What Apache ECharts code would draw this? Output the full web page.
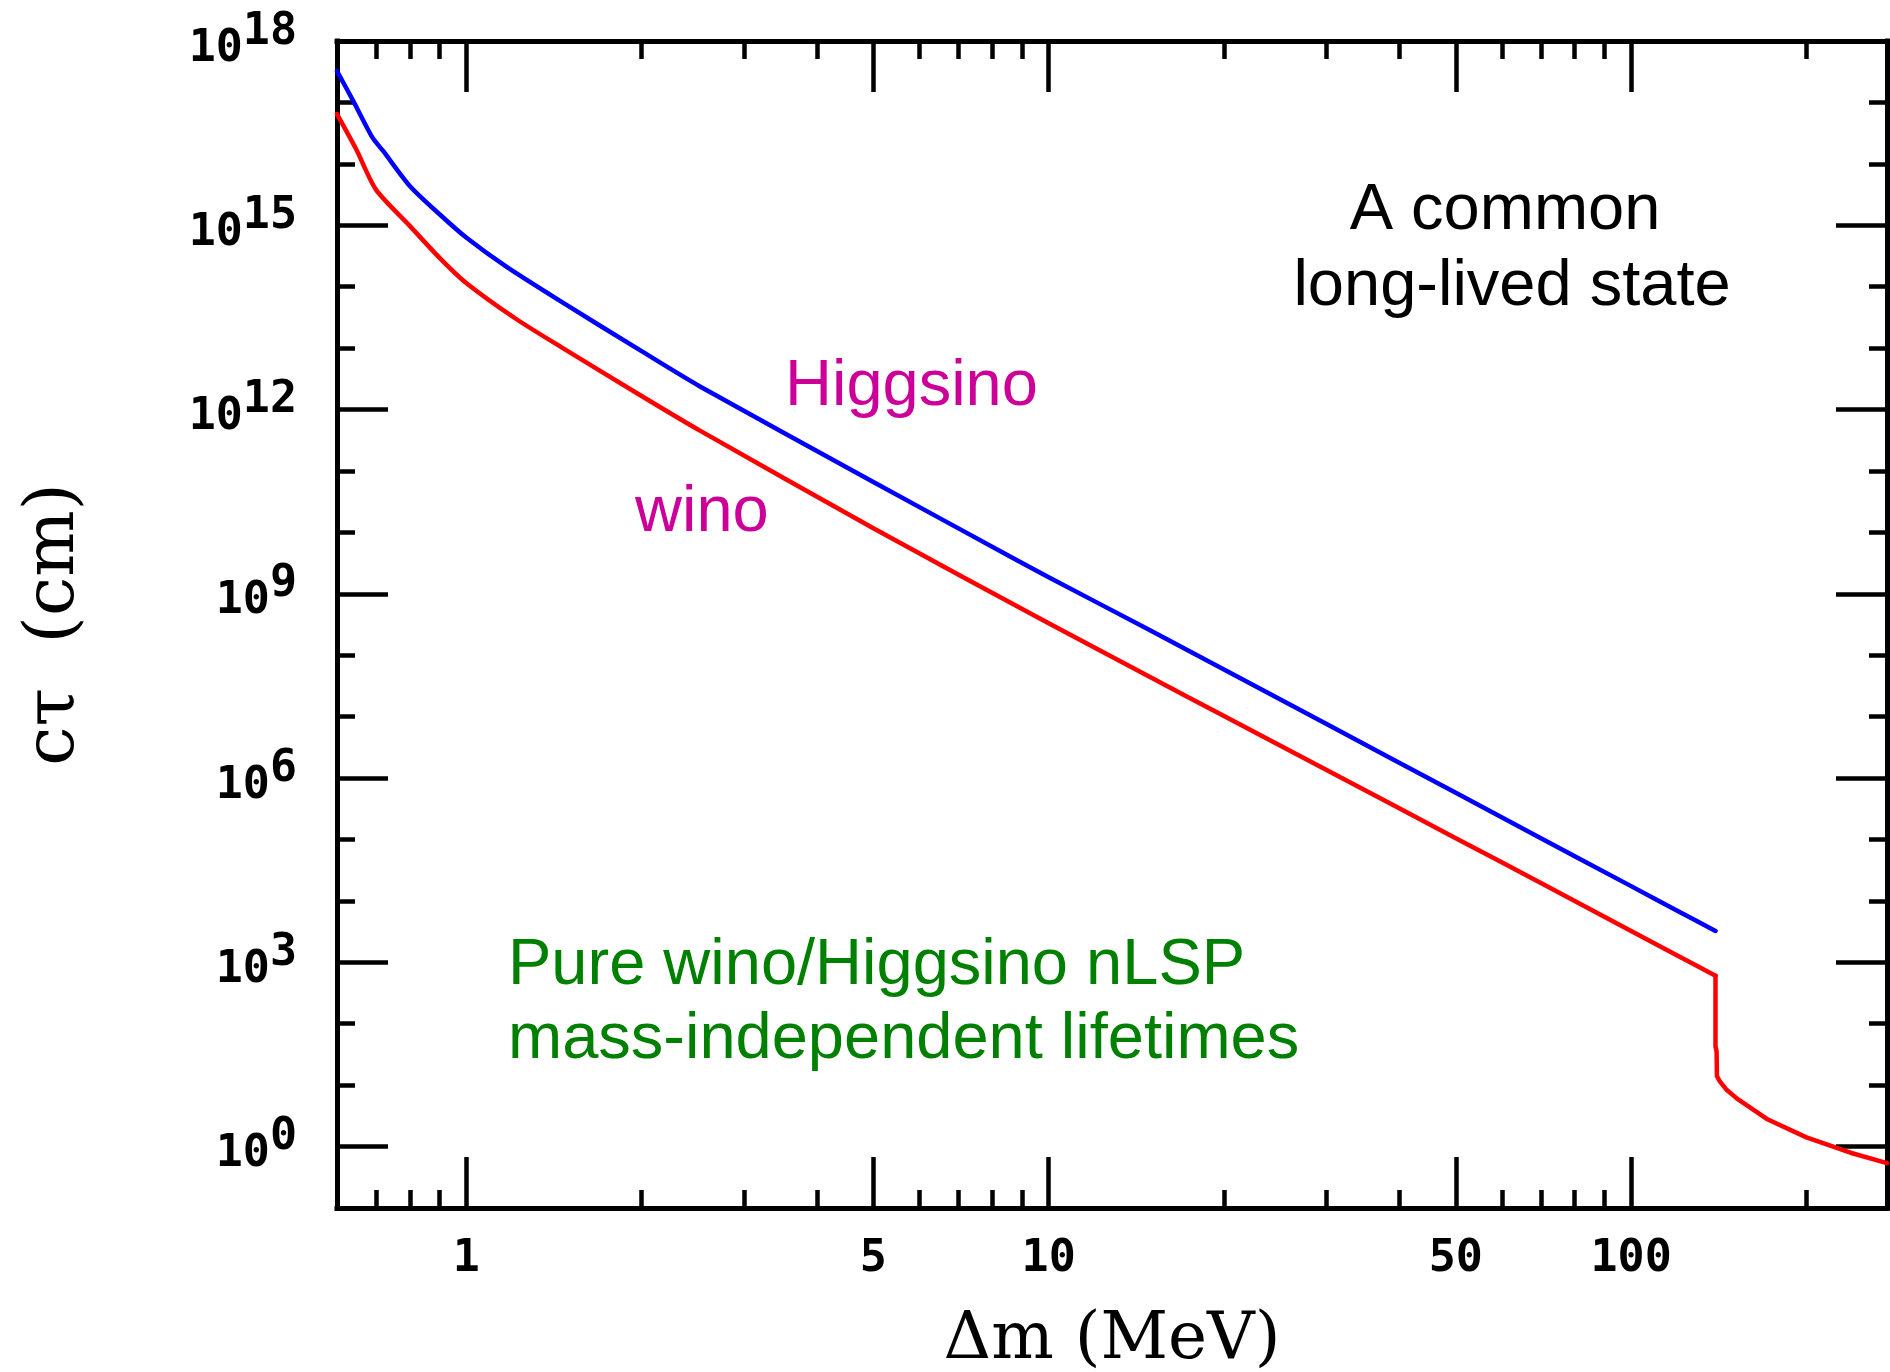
<!DOCTYPE html>
<html><head><meta charset="utf-8">
<script src="https://cdn.jsdelivr.net/npm/echarts@6/dist/echarts.min.js"></script>
<style>html,body{margin:0;padding:0;background:#fff}#c{width:1890px;height:1372px}</style>
</head><body><div id="c"></div>
<script>
// Higgsino (blue) curve: Δm (MeV) and cτ (cm)
const higgsinoDm = [0.6, 0.64, 0.69, 0.72, 0.8, 0.9, 1.0, 1.17, 1.465, 2.0, 2.515, 5, 8.79, 10, 14.9, 30, 50, 70, 100, 120, 139.6];
const higgsinoCtau = [3.24e17, 1.05e17, 2.69e16, 1.62e16, 4.37e15, 1.51e15, 6.31e14, 2.14e14, 5.50e13, 8.91e12, 2.40e12, 6.61e10, 3.59e9, 1.86e9, 2.57e8, 7.59e6, 5.75e5, 1.05e5, 1.74e4, 6.92e3, 3.24e3];
// wino (red) curve; the drop at the pion threshold and the tail follow
const winoDm = [0.6, 0.647, 0.7, 0.8, 0.9, 1.0, 1.22, 1.465, 2.0, 2.515, 5, 10, 14.9, 20, 30, 50, 70, 100, 120, 139.6, 139.6, 140.2, 140.4, 142, 146, 152, 171, 200, 238, 275];
const winoCtau = [6.46e16, 1.74e16, 3.80e15, 9.77e14, 2.95e14, 1.15e14, 2.95e13, 1.00e13, 1.66e12, 4.57e11, 1.17e10, 3.31e8, 4.47e7, 1.02e7, 1.35e6, 1.05e5, 1.95e4, 3.24e3, 1.29e3, 6.03e2, 42.7, 35.5, 14.1, 11.5, 8.32, 6.03, 2.82, 1.41, 0.794, 0.537];
const winoJumpIndex = 19; // last point before the vertical drop

const xMajorTicks = [1, 5, 10, 50, 100];
const xMinorTicks = [0.7, 0.8, 0.9, 2, 3, 4, 6, 7, 8, 9, 20, 30, 40, 60, 70, 80, 90, 200];
const yMajorTicks = [1, 1e3, 1e6, 1e9, 1e12, 1e15, 1e18];
const yMinorTicks = [10, 100, 1e4, 1e5, 1e7, 1e8, 1e10, 1e11, 1e13, 1e14, 1e16, 1e17];
const xRange = [0.6, 275];
const yRange = [0.1, 1.00001e18];

const tickFont = 'DejaVu Sans Mono';
const sansFont = '"Liberation Sans", Arial, Helvetica, sans-serif';
const axisStyle = {color: '#000', width: 5, cap: 'square'};
const tickStyle = {color: '#000', width: 4.5};

function xAxisDef(pos, ticks, len, showLine, showLabel, name) {
  return {
    type: 'log', logBase: 10, position: pos, min: xRange[0], max: xRange[1],
    axisLine: {show: showLine, onZero: false, lineStyle: axisStyle},
    axisTick: {show: true, inside: true, length: len, customValues: ticks, lineStyle: tickStyle},
    axisLabel: showLabel ? {show: true, customValues: ticks, margin: 29, color: '#000',
      fontFamily: tickFont, fontWeight: 'bold', fontSize: 45, lineHeight: 45,
      formatter: v => String(v)} : {show: false},
    splitLine: {show: false}, minorTick: {show: false},
    name: name || '', nameLocation: 'middle', nameGap: 100,
    nameTextStyle: {fontFamily: 'DejaVu Serif', fontSize: 66, lineHeight: 66, color: '#000'}
  };
}
function yAxisDef(pos, ticks, len, showLine, showLabel, name) {
  return {
    type: 'log', logBase: 10, position: pos, min: yRange[0], max: yRange[1],
    axisLine: {show: showLine, onZero: false, lineStyle: axisStyle},
    axisTick: {show: true, inside: true, length: len, customValues: ticks, lineStyle: tickStyle},
    axisLabel: showLabel ? {show: true, customValues: ticks, margin: 40, padding: [16, 0, 0, 0],
      formatter: v => '{b|10}{s|' + Math.round(Math.log10(v)) + '}',
      rich: {
        b: {fontFamily: tickFont, fontWeight: 'bold', fontSize: 45, lineHeight: 45, color: '#000'},
        s: {fontFamily: tickFont, fontWeight: 'bold', fontSize: 45, lineHeight: 45, color: '#000', padding: [0, 0, 34, 0]}
      }} : {show: false},
    splitLine: {show: false}, minorTick: {show: false},
    name: name || '', nameLocation: 'middle', nameGap: 247, nameRotate: 90,
    nameTextStyle: {fontFamily: 'DejaVu Serif', fontSize: 70, lineHeight: 70, color: '#000'}
  };
}

const blueData = higgsinoDm.map((x, i) => [x, higgsinoCtau[i]]);
const redData = winoDm.map((x, i) => [x, winoCtau[i]]);
const lineBase = {type: 'line', xAxisIndex: 0, yAxisIndex: 0, showSymbol: false, symbol: 'none'};

const chart = echarts.init(document.getElementById('c'));
chart.setOption({
  animation: false,
  backgroundColor: '#fff',
  grid: {left: 337, right: 3, top: 41, bottom: 164, containLabel: false, outerBoundsMode: 'none'},
  xAxis: [
    xAxisDef('bottom', xMajorTicks, 51, true, true, 'Δm (MeV)'),
    xAxisDef('bottom', xMinorTicks, 18, false, false),
    xAxisDef('top', xMajorTicks, 51, true, false),
    xAxisDef('top', xMinorTicks, 18, false, false)
  ],
  yAxis: [
    yAxisDef('left', yMajorTicks, 51, true, true, 'cτ  (cm)'),
    yAxisDef('left', yMinorTicks, 18, false, false),
    yAxisDef('right', yMajorTicks, 51, true, false),
    yAxisDef('right', yMinorTicks, 18, false, false)
  ],
  series: [
    Object.assign({}, lineBase, {name: 'Higgsino', smooth: 0.25,
      lineStyle: {color: '#0000ff', width: 4.5, cap: 'round', join: 'round'}, itemStyle: {color: '#0000ff'},
      data: blueData}),
    Object.assign({}, lineBase, {name: 'wino', smooth: 0.25,
      lineStyle: {color: '#ff0000', width: 4.5, cap: 'round', join: 'round'}, itemStyle: {color: '#ff0000'},
      data: redData.slice(0, winoJumpIndex + 1)}),
    Object.assign({}, lineBase, {name: 'wino tail', smooth: false,
      lineStyle: {color: '#ff0000', width: 4.5, cap: 'round', join: 'round'}, itemStyle: {color: '#ff0000'},
      data: redData.slice(winoJumpIndex)})
  ],
  graphic: [
    {type: 'text', x: 1505, y: 211, style: {text: 'A common', font: '65px ' + sansFont, fill: '#000', align: 'center', verticalAlign: 'middle', textAlign: 'center', textVerticalAlign: 'middle'}},
    {type: 'text', x: 1512, y: 287, style: {text: 'long-lived state', font: '65px ' + sansFont, fill: '#000', align: 'center', verticalAlign: 'middle', textAlign: 'center', textVerticalAlign: 'middle'}},
    {type: 'text', x: 785, y: 387, style: {text: 'Higgsino', font: '65px ' + sansFont, fill: '#cc0099', align: 'left', verticalAlign: 'middle', textAlign: 'left', textVerticalAlign: 'middle'}},
    {type: 'text', x: 635, y: 513, style: {text: 'wino', font: '65px ' + sansFont, fill: '#cc0099', align: 'left', verticalAlign: 'middle', textAlign: 'left', textVerticalAlign: 'middle'}},
    {type: 'text', x: 508, y: 966, style: {text: 'Pure wino/Higgsino nLSP', font: '65px ' + sansFont, fill: '#008000', align: 'left', verticalAlign: 'middle', textAlign: 'left', textVerticalAlign: 'middle'}},
    {type: 'text', x: 508, y: 1040, style: {text: 'mass-independent lifetimes', font: '65px ' + sansFont, fill: '#008000', align: 'left', verticalAlign: 'middle', textAlign: 'left', textVerticalAlign: 'middle'}}
  ]
});
</script>
</body></html>
